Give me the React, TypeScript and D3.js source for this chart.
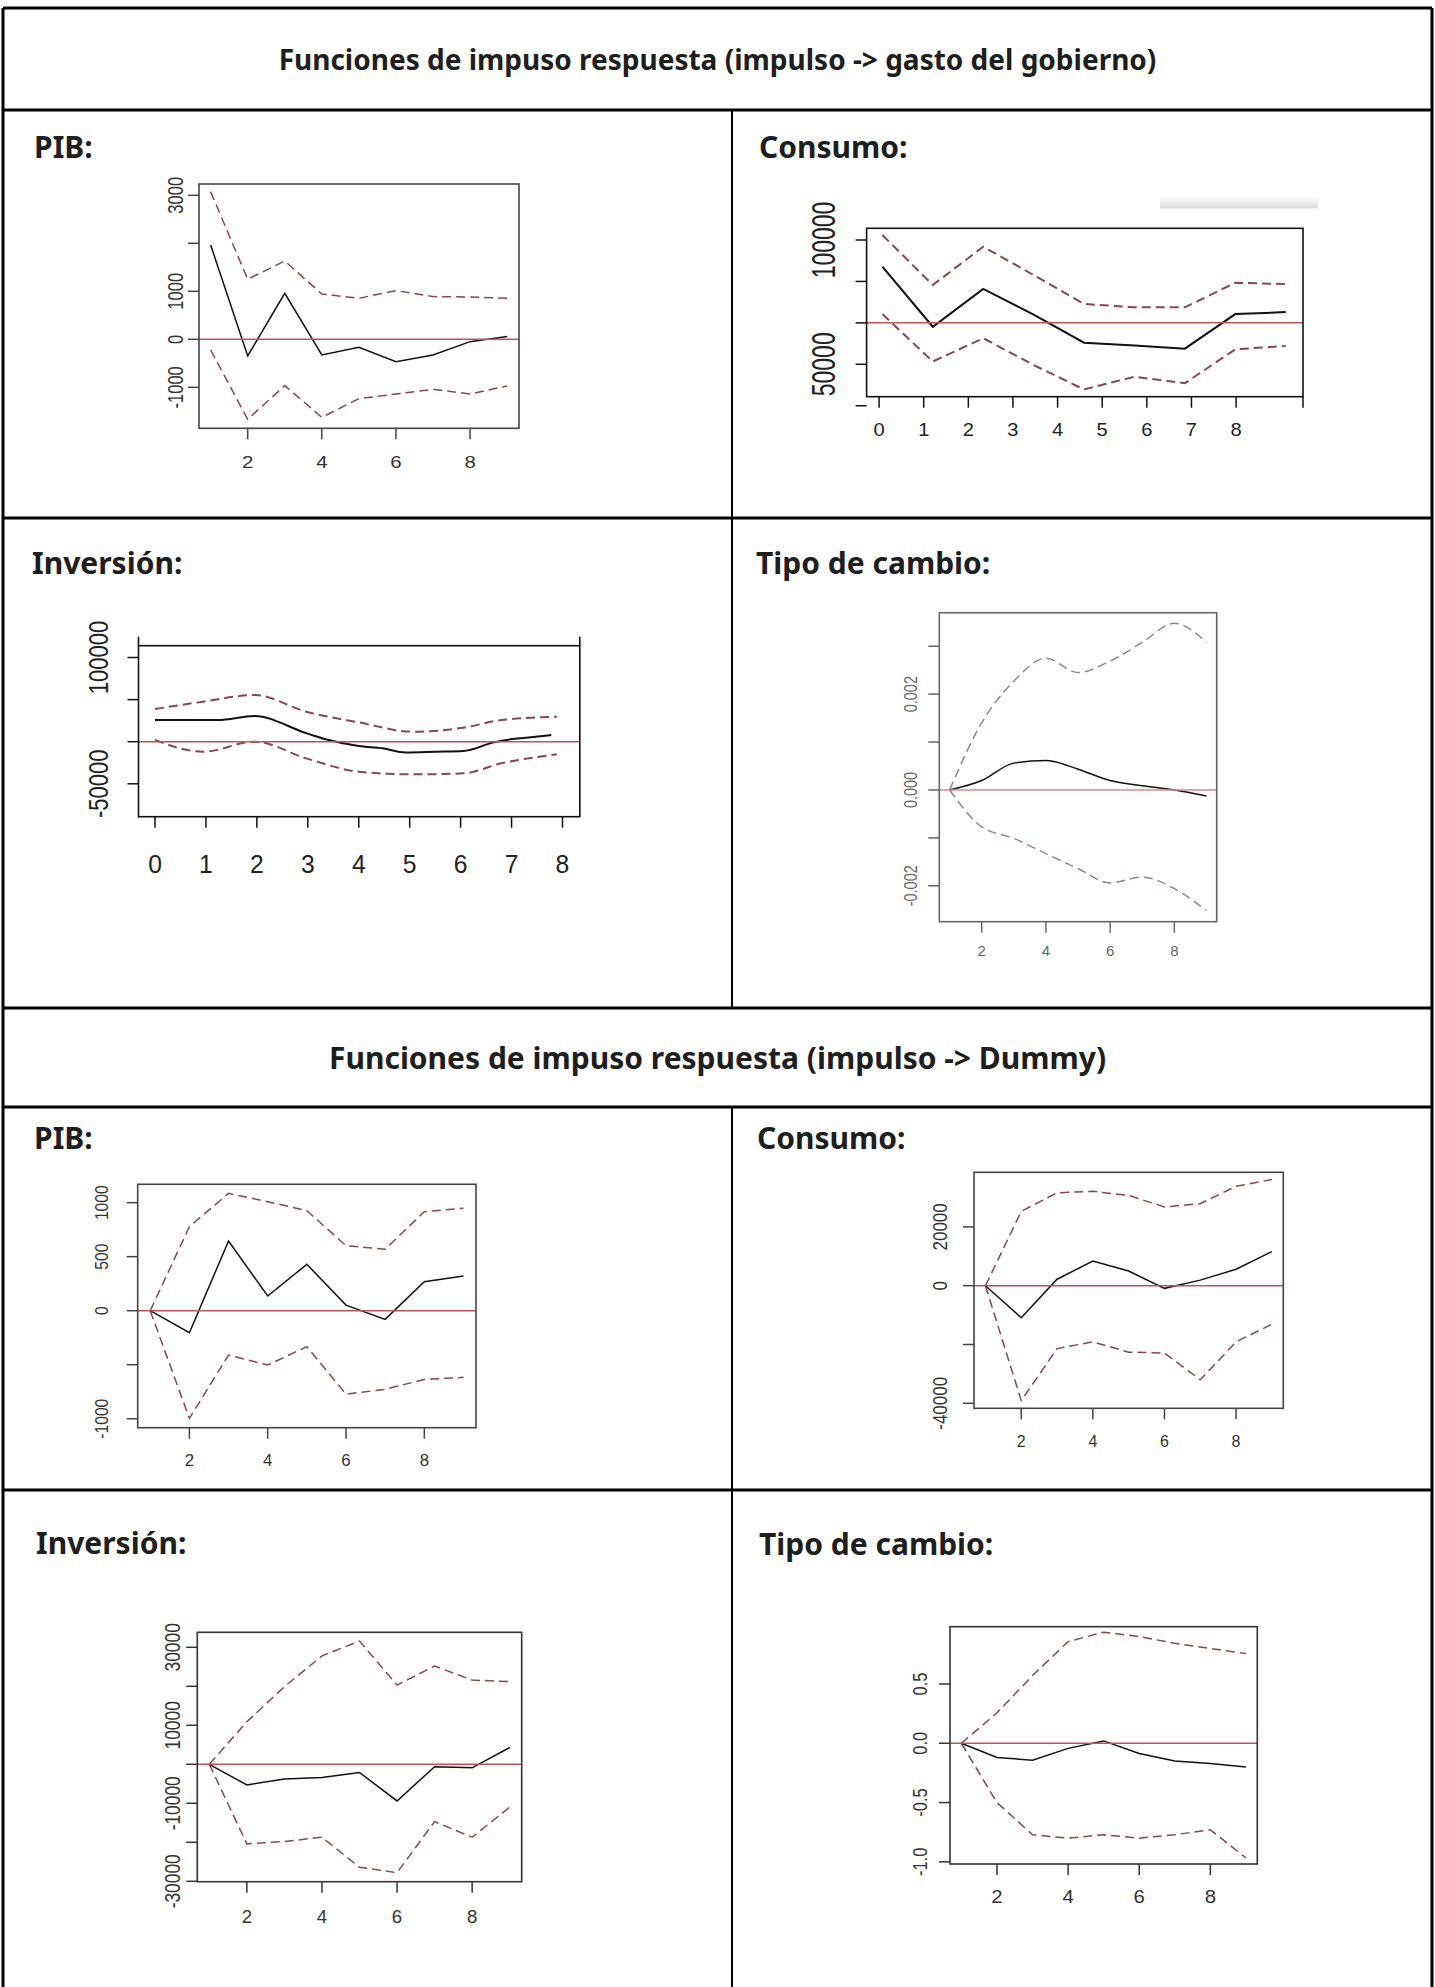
import React from "react";
import * as d3 from "d3";

// periodos de la funcion impulso respuesta
const steps = [1, 2, 3, 4, 5, 6, 7, 8, 9];

// impulso -> gasto del gobierno
const pibGastoIrf = [1965, -347, 958, -326, -167, -465, -326, -49, 56];
const pibGastoUpper = [3076, 1250, 1632, 944, 854, 1014, 889, 882, 854];
const pibGastoLower = [-222, -1667, -965, -1625, -1236, -1139, -1042, -1139, -972];

const consumoGastoIrf = [89300, 65100, 80300, 70000, 58700, 57600, 56300, 70200, 71000];
const consumoGastoUpper = [102000, 81900, 97300, 85900, 74300, 72900, 72900, 82800, 82300];
const consumoGastoLower = [70200, 51100, 60500, 49700, 39900, 45000, 42400, 56000, 57400];
const consumoGastoRef = 66700;
const consumoGastoAxis = [0, 1, 2, 3, 4, 5, 6, 7, 8, 9.5];
const consumoGastoAxisLabels = ["0", "1", "2", "3", "4", "5", "6", "7", "8", ""];

const inversionGastoIrfX = [0, 1.24, 1.95, 2.98, 3.41, 4, 4.47, 4.92, 5.52, 6.05, 6.65, 7.03, 7.33, 7.78];
const inversionGastoIrf = [25700, 25700, 30500, 9900, 2000, -5100, -7900, -12700, -11900, -11100, -800, 3200, 5100, 7900];
const inversionGastoBandX = [0, 0.94, 1.96, 2.97, 4, 5.07, 6.05, 6.8, 7.89];
const inversionGastoUpper = [38800, 47500, 55400, 35600, 23000, 11900, 16600, 25700, 29700];
const inversionGastoLower = [2000, -11900, 0, -19800, -35600, -38800, -37600, -25700, -15000];
const inversionGastoAxis = [0, 1, 2, 3, 4, 5, 6, 7, 8];

const tipoGastoIrf = [0, 0.000196, 0.00056, 0.000615, 0.000434, 0.000196, 0.00009, 0, -0.000126];
const tipoGastoUpper = [0, 0.0014, 0.00227, 0.00275, 0.00245, 0.00269, 0.00308, 0.00348, 0.00308];
const tipoGastoLower = [0, -0.00077, -0.00101, -0.00133, -0.00164, -0.00194, -0.00182, -0.00206, -0.00252];

// impulso -> Dummy
const pibDummyIrf = [0, -204, 645, 136, 429, 52, -80, 269, 321];
const pibDummyUpper = [0, 778, 1086, 1009, 926, 602, 568, 917, 948];
const pibDummyLower = [0, -997, -410, -503, -333, -772, -728, -636, -617];

const consumoDummyIrf = [0, -10900, 2200, 8400, 5000, -900, 1900, 5600, 11600];
const consumoDummyUpper = [0, 25300, 31600, 32100, 30700, 26800, 27900, 33800, 36100];
const consumoDummyLower = [0, -39100, -21400, -19100, -22600, -22900, -32000, -19100, -13100];

const inversionDummyIrf = [0, -5300, -3800, -3400, -2100, -9400, -600, -900, 4300];
const inversionDummyUpper = [0, 10900, 19900, 27800, 31600, 20300, 25200, 21600, 21200];
const inversionDummyLower = [0, -20400, -19800, -18700, -26400, -27800, -14700, -18700, -11000];

const tipoDummyIrf = [0, -0.12, -0.143, -0.043, 0.02, -0.086, -0.149, -0.171, -0.2];
const tipoDummyUpper = [0, 0.257, 0.571, 0.857, 0.937, 0.9, 0.843, 0.8, 0.757];
const tipoDummyLower = [0, -0.5, -0.771, -0.8, -0.771, -0.8, -0.771, -0.729, -0.966];

const evenTicks = [2, 4, 6, 8];
const evenLabels = ["2", "4", "6", "8"];

const titles = [
  "Funciones de impuso respuesta (impulso -> gasto del gobierno)",
  "Funciones de impuso respuesta (impulso -> Dummy)",
];

const W = 1435;
const H = 1987;
const headFont = "'Noto Sans', 'Open Sans', sans-serif";
const tickFont = "'Liberation Sans', Arial, sans-serif";

type PanelSpec = {
  label: string;
  labelPos: [number, number];
  box: [number, number, number, number];
  xDomain: [number, number];
  yDomain: [number, number];
  irfX: number[];
  irf: number[];
  bandX: number[];
  upper: number[];
  lower: number[];
  ref: number;
  yTicks: number[];
  yLabels: string[];
  xTicks: number[];
  xLabels: string[];
  xAxisDomain?: [number, number];
  yLabelX: number;
  xLabelY: number;
  yFont: number;
  ySx: number;
  xFont: number;
  xSx: number;
  dash: string;
  refColor: string;
  boxColor: string;
  textColor: string;
  curve?: d3.CurveFactory;
  lineWidth?: number;
  topStubs?: number;
  shadow?: boolean;
};

const dashRed = "#86484f";
const refRed = "#c2525a";

const panels: PanelSpec[] = [
  {
    label: "PIB:", labelPos: [34, 146],
    box: [199, 184, 519, 428.3], xDomain: [0.686, 9.32], yDomain: [-1854, 3235],
    irfX: steps, irf: pibGastoIrf, bandX: steps, upper: pibGastoUpper, lower: pibGastoLower, ref: 0,
    yTicks: [3000, 2000, 1000, 0, -1000], yLabels: ["3000", "", "1000", "0", "-1000"],
    xTicks: evenTicks, xLabels: evenLabels,
    yLabelX: 175, xLabelY: 461.7, yFont: 16.5, ySx: 1.35, xFont: 17, xSx: 1.2,
    dash: dashRed, refColor: refRed, boxColor: "#444", textColor: "#333",
  },
  {
    label: "Consumo:", labelPos: [759, 146],
    box: [866.6, 228.3, 1303, 396.7], xDomain: [0.687, 9.343], yDomain: [36967, 104706],
    irfX: steps, irf: consumoGastoIrf, bandX: steps, upper: consumoGastoUpper, lower: consumoGastoLower,
    ref: consumoGastoRef,
    yTicks: [100000, 83333, 66667, 50000, 33333], yLabels: ["100000", "", "", "50000", ""],
    xTicks: consumoGastoAxis, xLabels: consumoGastoAxisLabels, xAxisDomain: [-0.28, 9.5],
    yLabelX: 823.4, xLabelY: 430, yFont: 23, ySx: 1.45, xFont: 17.5, xSx: 1.15,
    dash: dashRed, refColor: refRed, boxColor: "#111", textColor: "#222", lineWidth: 2, shadow: true,
  },
  {
    label: "Inversión:", labelPos: [32, 562],
    box: [138.5, 645.7, 579.8, 816.7], xDomain: [-0.324, 8.34], yDomain: [-89074, 114014],
    irfX: inversionGastoIrfX, irf: inversionGastoIrf, bandX: inversionGastoBandX,
    upper: inversionGastoUpper, lower: inversionGastoLower, ref: 0,
    yTicks: [100000, 50000, 0, -50000], yLabels: ["100000", "", "", "-50000"],
    xTicks: inversionGastoAxis, xLabels: inversionGastoAxis.map(String),
    yLabelX: 97.6, xLabelY: 863.3, yFont: 22, ySx: 1.27, xFont: 26, xSx: 0.95,
    dash: dashRed, refColor: refRed, boxColor: "#111", textColor: "#222", lineWidth: 2,
    curve: d3.curveMonotoneX, topStubs: 9,
  },
  {
    label: "Tipo de cambio:", labelPos: [756, 562],
    box: [939.3, 612.7, 1216.7, 921.7], xDomain: [0.68, 9.32], yDomain: [-0.00275, 0.0037],
    irfX: steps, irf: tipoGastoIrf, bandX: steps, upper: tipoGastoUpper, lower: tipoGastoLower, ref: 0,
    yTicks: [0.003, 0.002, 0.001, 0, -0.001, -0.002], yLabels: ["", "0.002", "", "0.000", "", "-0.002"],
    xTicks: evenTicks, xLabels: evenLabels,
    yLabelX: 910, xLabelY: 950, yFont: 14.5, ySx: 1.25, xFont: 15, xSx: 1,
    dash: "#958486", refColor: "#d48a8a", boxColor: "#666", textColor: "#666", curve: d3.curveMonotoneX,
  },
  {
    label: "PIB:", labelPos: [34, 1137],
    box: [137.7, 1184.3, 476, 1427.7], xDomain: [0.68, 9.32], yDomain: [-1083, 1170],
    irfX: steps, irf: pibDummyIrf, bandX: steps, upper: pibDummyUpper, lower: pibDummyLower, ref: 0,
    yTicks: [1000, 500, 0, -500, -1000], yLabels: ["1000", "500", "0", "", "-1000"],
    xTicks: evenTicks, xLabels: evenLabels,
    yLabelX: 101.7, xLabelY: 1460, yFont: 15.7, ySx: 1.2, xFont: 16, xSx: 1.05,
    dash: dashRed, refColor: refRed, boxColor: "#444", textColor: "#333",
  },
  {
    label: "Consumo:", labelPos: [757, 1137],
    box: [974, 1172.3, 1283.3, 1408.3], xDomain: [0.68, 9.32], yDomain: [-41700, 38570],
    irfX: steps, irf: consumoDummyIrf, bandX: steps, upper: consumoDummyUpper, lower: consumoDummyLower, ref: 0,
    yTicks: [20000, 0, -20000, -40000], yLabels: ["20000", "0", "", "-40000"],
    xTicks: evenTicks, xLabels: evenLabels,
    yLabelX: 940, xLabelY: 1441.7, yFont: 17, ySx: 1.2, xFont: 16, xSx: 1,
    dash: dashRed, refColor: refRed, boxColor: "#444", textColor: "#333",
  },
  {
    label: "Inversión:", labelPos: [36, 1542],
    box: [197.3, 1632.3, 521.7, 1881.7], xDomain: [0.68, 9.32], yDomain: [-30103, 33846],
    irfX: steps, irf: inversionDummyIrf, bandX: steps, upper: inversionDummyUpper, lower: inversionDummyLower, ref: 0,
    yTicks: [30000, 20000, 10000, 0, -10000, -20000, -30000],
    yLabels: ["30000", "", "10000", "", "-10000", "", "-30000"],
    xTicks: evenTicks, xLabels: evenLabels,
    yLabelX: 172.2, xLabelY: 1916.7, yFont: 17.4, ySx: 1.24, xFont: 18.6, xSx: 1,
    dash: dashRed, refColor: refRed, boxColor: "#333", textColor: "#333",
  },
  {
    label: "Tipo de cambio:", labelPos: [759, 1543],
    box: [950, 1626.7, 1257.3, 1864], xDomain: [0.68, 9.32], yDomain: [-1.018, 0.983],
    irfX: steps, irf: tipoDummyIrf, bandX: steps, upper: tipoDummyUpper, lower: tipoDummyLower, ref: 0,
    yTicks: [0.5, 0, -0.5, -1], yLabels: ["0.5", "0.0", "-0.5", "-1.0"],
    xTicks: evenTicks, xLabels: evenLabels,
    yLabelX: 920, xLabelY: 1896.7, yFont: 16.5, ySx: 1.25, xFont: 18.5, xSx: 1.1,
    dash: dashRed, refColor: refRed, boxColor: "#333", textColor: "#333",
  },
];

function Panel({ p }: { p: PanelSpec }) {
  const [x0, y0, x1, y1] = p.box;
  const x = d3.scaleLinear().domain(p.xDomain).range([x0, x1]);
  const y = d3.scaleLinear().domain(p.yDomain).range([y1, y0]);
  const xa = p.xAxisDomain ? d3.scaleLinear().domain(p.xAxisDomain).range([x0, x1]) : x;
  const line = d3
    .line<[number, number]>()
    .x((d) => x(d[0]))
    .y((d) => y(d[1]))
    .curve(p.curve ?? d3.curveLinear);
  const pts = (xs: number[], vs: number[]) => xs.map((v, i) => [v, vs[i]] as [number, number]);
  const lw = p.lineWidth ?? 1.5;
  const tick = 11;

  return (
    <g>
      <text x={p.labelPos[0]} y={p.labelPos[1]} dominantBaseline="central"
        fontFamily={headFont} fontWeight={700} fontSize={30} fill="#1e1e1e">
        {p.label}
      </text>

      {p.shadow && (
        <g>
          <defs>
            <linearGradient id="shadowGrad" x1="0" y1="0" x2="0" y2="1">
              <stop offset="0" stopColor="#ffffff" />
              <stop offset="0.55" stopColor="#efefef" />
              <stop offset="1" stopColor="#d6d6d6" />
            </linearGradient>
          </defs>
          <rect x={x1 - 143} y={y0 - 33} width={158} height={13} fill="url(#shadowGrad)" />
        </g>
      )}

      <path d={line(pts(p.bandX, p.upper)) ?? ""} fill="none" stroke={p.dash}
        strokeWidth={lw} strokeDasharray="9,5" />
      <path d={line(pts(p.bandX, p.lower)) ?? ""} fill="none" stroke={p.dash}
        strokeWidth={lw} strokeDasharray="9,5" />
      <path d={line(pts(p.irfX, p.irf)) ?? ""} fill="none" stroke="#111" strokeWidth={lw} />
      <line x1={x0} x2={x1} y1={y(p.ref)} y2={y(p.ref)} stroke={p.refColor} strokeWidth={1.6} />

      <rect x={x0} y={y0} width={x1 - x0} height={y1 - y0} fill="none"
        stroke={p.boxColor} strokeWidth={1.6} />
      {p.topStubs && (
        <g stroke={p.boxColor} strokeWidth={1.6}>
          <line x1={x0} x2={x0} y1={y0 - p.topStubs} y2={y0} />
          <line x1={x1} x2={x1} y1={y0 - p.topStubs} y2={y0} />
        </g>
      )}

      {p.yTicks.map((t, i) => (
        <g key={"y" + i}>
          <line x1={x0 - tick} x2={x0} y1={y(t)} y2={y(t)} stroke={p.boxColor} strokeWidth={1.5} />
          {p.yLabels[i] && (
            <text transform={`translate(${p.yLabelX},${y(t)}) scale(${p.ySx},1) rotate(-90)`}
              textAnchor="middle" dominantBaseline="central"
              fontFamily={tickFont} fontSize={p.yFont} fill={p.textColor}>
              {p.yLabels[i]}
            </text>
          )}
        </g>
      ))}

      {p.xTicks.map((t, i) => (
        <g key={"x" + i}>
          <line x1={xa(t)} x2={xa(t)} y1={y1} y2={y1 + tick} stroke={p.boxColor} strokeWidth={1.5} />
          {p.xLabels[i] && (
            <text transform={`translate(${xa(t)},${p.xLabelY}) scale(${p.xSx},1)`}
              textAnchor="middle" dominantBaseline="central"
              fontFamily={tickFont} fontSize={p.xFont} fill={p.textColor}>
              {p.xLabels[i]}
            </text>
          )}
        </g>
      ))}
    </g>
  );
}

export default function App() {
  // rejilla de la tabla
  const left = 3;
  const right = 1432;
  const top = 8;
  const rowLines = [110, 518, 1008, 1107, 1490];
  const divX = 732;

  return (
    <svg width={W} height={H} style={{ position: "absolute", left: 0, top: 0, background: "#fff" }}>
      <rect x={0} y={0} width={W} height={H} fill="#fff" />

      <g stroke="#000">
        <line x1={left} x2={right} y1={top} y2={top} strokeWidth={3} />
        <line x1={left} x2={left} y1={top} y2={H} strokeWidth={3} />
        <line x1={right} x2={right} y1={top} y2={H} strokeWidth={3} />
        {rowLines.map((r) => (
          <line key={r} x1={left} x2={right} y1={r} y2={r} strokeWidth={3} />
        ))}
        <line x1={divX} x2={divX} y1={rowLines[0]} y2={rowLines[2]} strokeWidth={2} />
        <line x1={divX} x2={divX} y1={rowLines[3]} y2={H} strokeWidth={2} />
      </g>

      <text x={(left + right) / 2} y={(top + rowLines[0]) / 2} textAnchor="middle" dominantBaseline="central"
        fontFamily={headFont} fontWeight={700} fontSize={28} fill="#1e1e1e">
        {titles[0]}
      </text>
      <text x={(left + right) / 2} y={(rowLines[2] + rowLines[3]) / 2} textAnchor="middle"
        dominantBaseline="central" fontFamily={headFont} fontWeight={700} fontSize={30} fill="#1e1e1e">
        {titles[1]}
      </text>

      {panels.map((p, i) => (
        <Panel key={i} p={p} />
      ))}
    </svg>
  );
}
